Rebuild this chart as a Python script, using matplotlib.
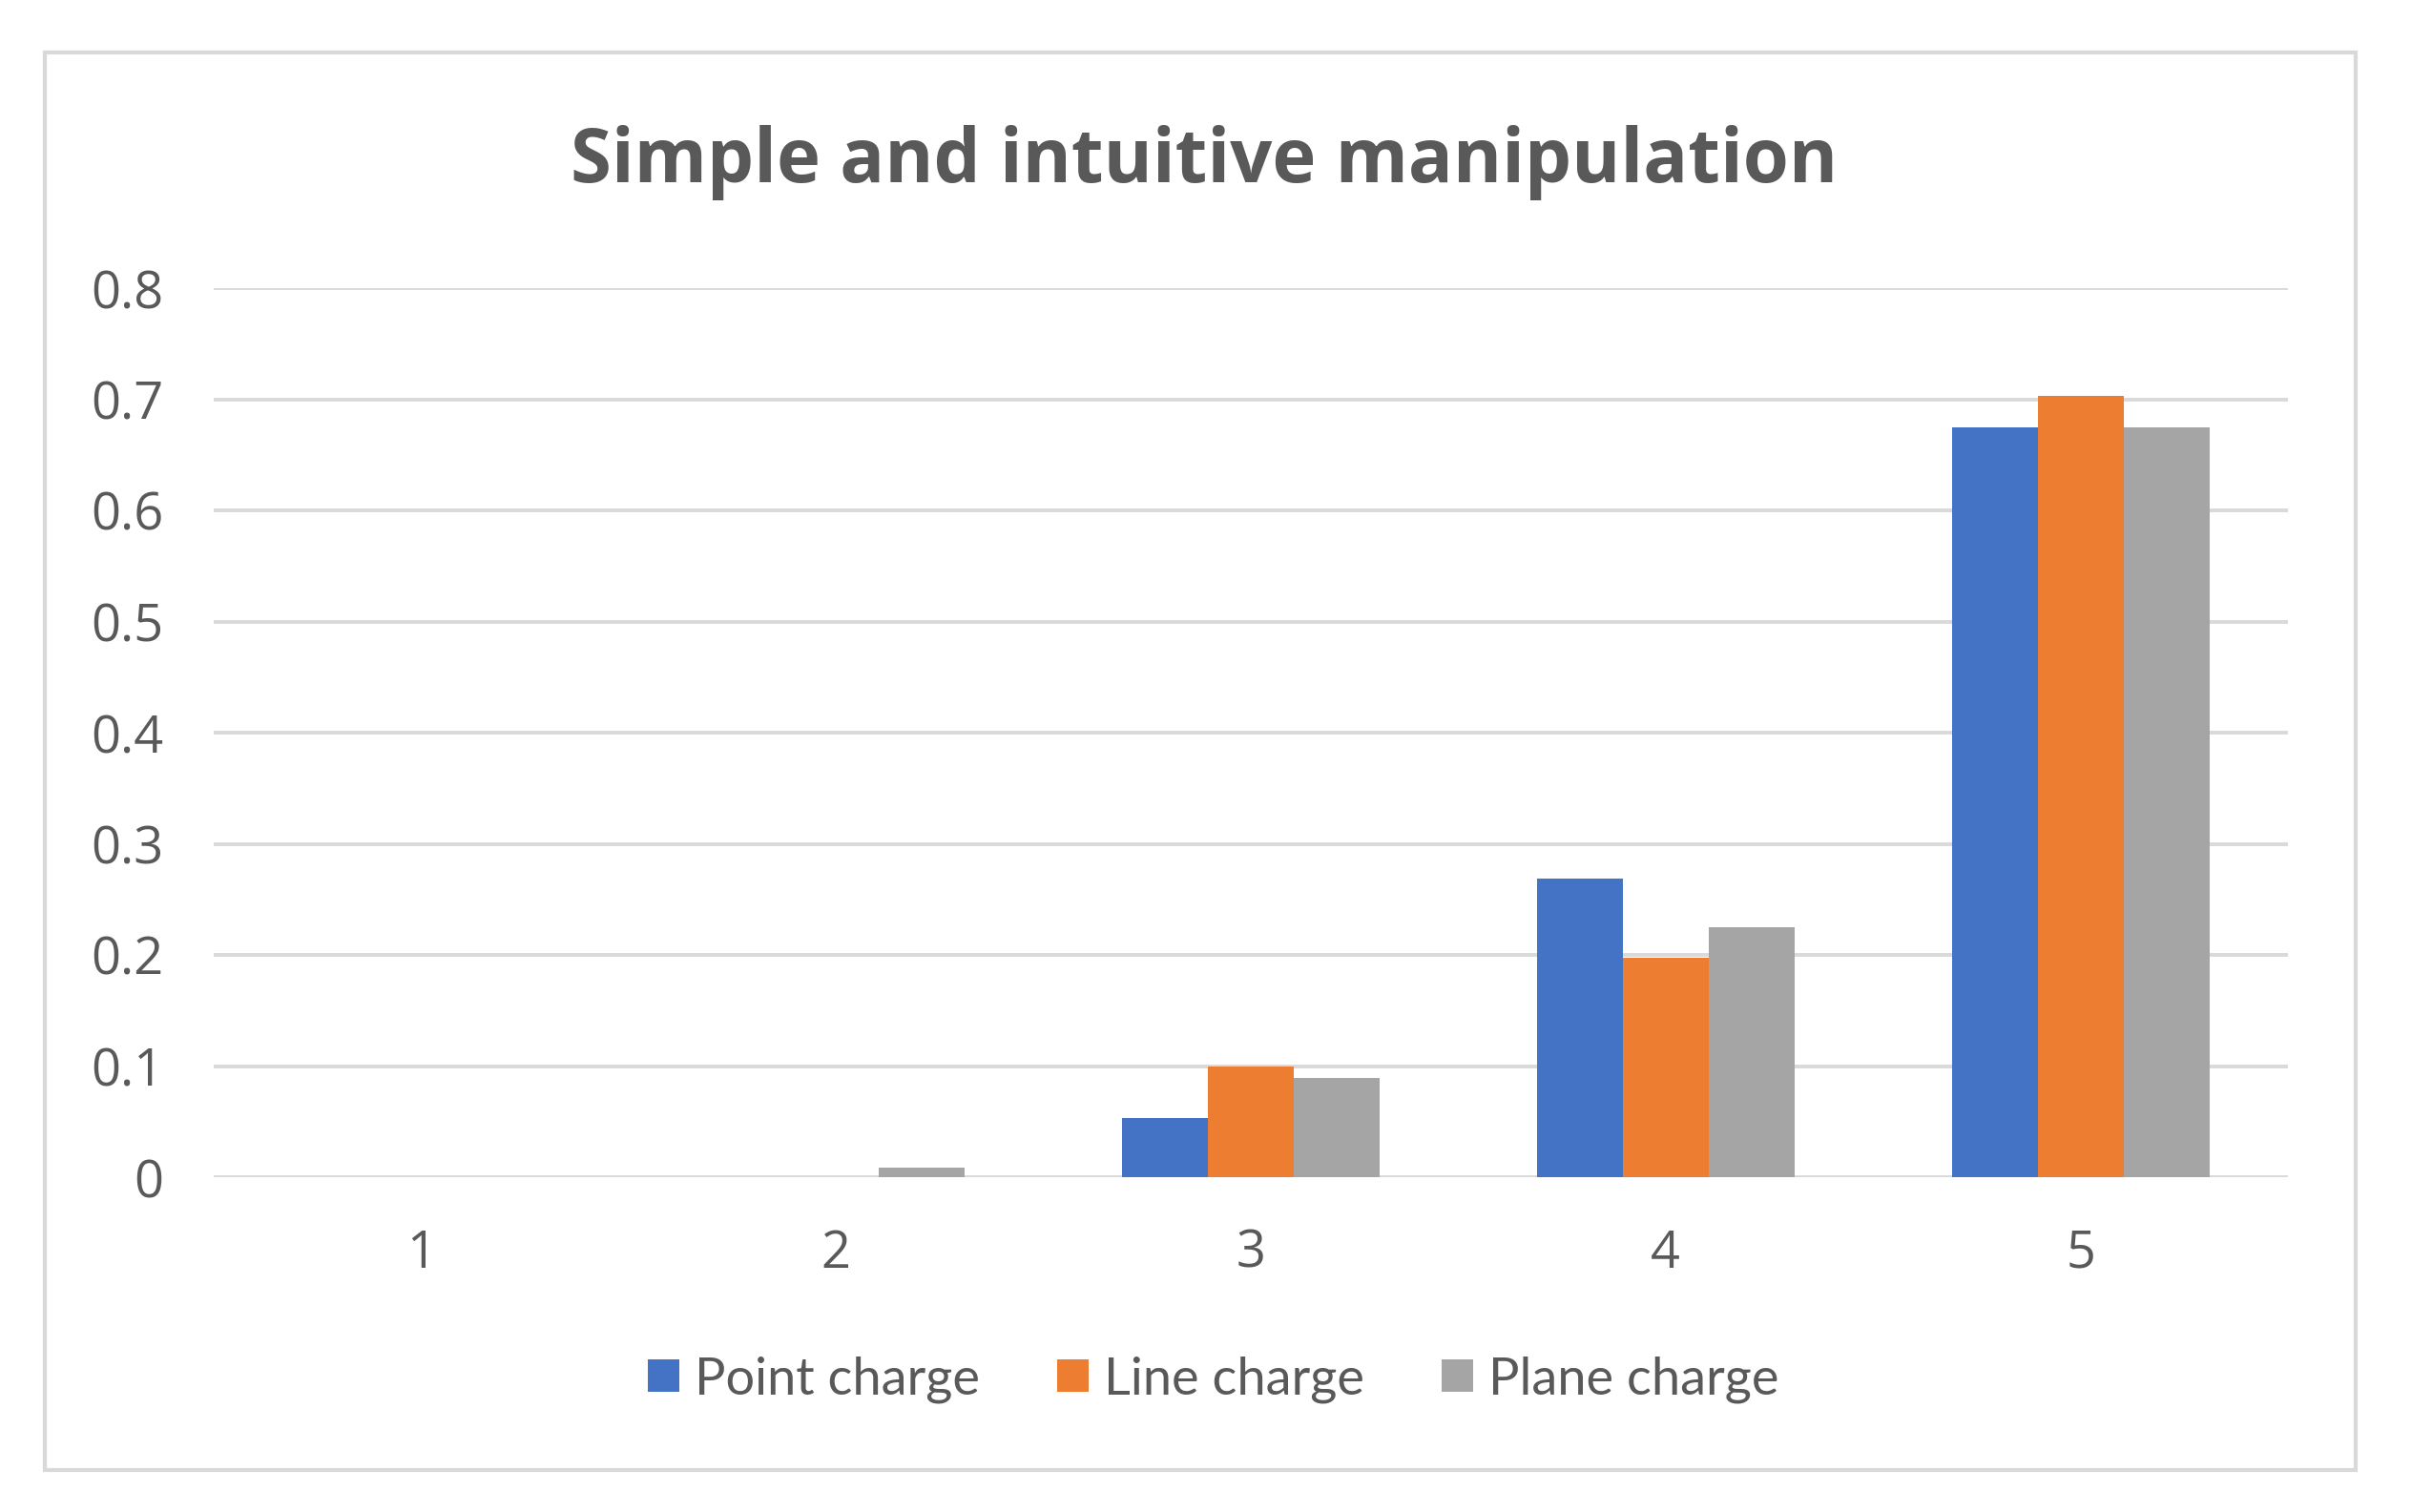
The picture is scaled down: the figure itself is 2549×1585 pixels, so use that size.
import numpy as np
import matplotlib
matplotlib.use('Agg')
import matplotlib.pyplot as plt
from matplotlib.patches import Rectangle

# Data
categories = ['1', '2', '3', '4', '5']
point_charge = [0.0, 0.0, 0.053, 0.269, 0.675]
line_charge = [0.0, 0.0, 0.100, 0.197, 0.703]
plane_charge = [0.0, 0.009, 0.089, 0.225, 0.675]
series_names = ['Point charge', 'Line charge', 'Plane charge']
y_ticks = [0, 0.1, 0.2, 0.3, 0.4, 0.5, 0.6, 0.7, 0.8]
y_tick_labels = ['0', '0.1', '0.2', '0.3', '0.4', '0.5', '0.6', '0.7', '0.8']

colors = ['#4472C4', '#ED7D31', '#A5A5A5']
text_color = '#595959'
grid_color = '#D9D9D9'


def draw_chart():
    W, H = 2549, 1585
    fig = plt.figure(figsize=(W / 100, H / 100), dpi=100)

    # outer frame of the chart
    frame = Rectangle((47 / W, 1 - 1541 / H), (2469 - 47) / W, (1541 - 55) / H,
                      transform=fig.transFigure, fill=False,
                      edgecolor=grid_color, linewidth=3)
    fig.patches.append(frame)

    ax = fig.add_axes([224 / W, 1 - 1234 / H, (2398 - 224) / W, (1234 - 302) / H])

    x = np.arange(len(categories))
    width = 0.207
    all_series = [point_charge, line_charge, plane_charge]
    for i, values in enumerate(all_series):
        ax.bar(x + (i - 1) * width, values, width, color=colors[i],
               label=series_names[i], zorder=3)

    ax.set_xlim(-0.5, len(categories) - 0.5)
    ax.set_ylim(0, 0.8)
    ax.set_yticks(y_ticks)
    ax.set_yticklabels(y_tick_labels)
    ax.set_xticks(x)
    ax.set_xticklabels(categories)

    for t in y_ticks:
        ax.axhline(t, color=grid_color, linewidth=2.8, zorder=1)

    for s in ax.spines.values():
        s.set_visible(False)
    ax.tick_params(length=0, colors=text_color, labelsize=39)
    ax.tick_params(axis='y', pad=38)
    ax.tick_params(axis='x', pad=38)
    for lbl in ax.get_xticklabels() + ax.get_yticklabels():
        lbl.set_fontfamily('Open Sans')

    fig.text(1262 / W, 1 - 170 / H, 'Simple and intuitive manipulation',
             ha='center', va='center', fontsize=56, fontweight='bold',
             color=text_color, family='Open Sans')

    leg = fig.legend(loc='center', bbox_to_anchor=(1272 / W, 1 - 1446 / H),
                     ncol=3, frameon=False,
                     prop={'family': 'Lato', 'size': 39},
                     handlelength=0.6, handleheight=0.6, handletextpad=0.3,
                     columnspacing=1.5)
    for t in leg.get_texts():
        t.set_color(text_color)

    fig.savefig('out.png', dpi=100, facecolor='white')


if __name__ == '__main__':
    draw_chart()
